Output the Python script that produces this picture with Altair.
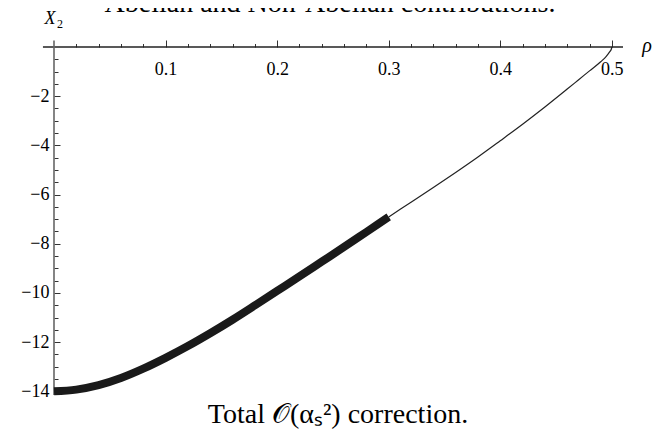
import altair as alt
import pandas as pd

# ---- data ----
rho_thick = [0.00, 0.02, 0.04, 0.06, 0.08, 0.10, 0.12, 0.14, 0.16, 0.18,
             0.20, 0.22, 0.24, 0.26, 0.28, 0.30]
x2_thick = [-14.00, -13.93, -13.75, -13.46, -13.08, -12.64, -12.16, -11.64,
            -11.09, -10.51, -9.92, -9.33, -8.73, -8.13, -7.52, -6.91]

rho_thin = [0.30, 0.32, 0.34, 0.36, 0.38, 0.40, 0.42, 0.44, 0.46, 0.47,
            0.48, 0.49, 0.495, 0.498, 0.4995, 0.50]
x2_thin = [-6.91, -6.31, -5.71, -5.10, -4.47, -3.81, -3.14, -2.44, -1.71,
           -1.34, -0.97, -0.60, -0.38, -0.20, -0.09, 0.0]

x_major = [0.1, 0.2, 0.3, 0.4, 0.5]
x_minor = [0.02, 0.04, 0.06, 0.08, 0.12, 0.14, 0.16, 0.18, 0.22, 0.24, 0.26,
           0.28, 0.32, 0.34, 0.36, 0.38, 0.42, 0.44, 0.46, 0.48]
y_major = [-2, -4, -6, -8, -10, -12, -14]
y_minor = [-0.5, -1, -1.5, -2.5, -3, -3.5, -4.5, -5, -5.5, -6.5, -7, -7.5,
           -8.5, -9, -9.5, -10.5, -11, -11.5, -12.5, -13, -13.5]

x_domain = [0, 0.51]
y_domain = [-14.15, 0]
x_line_extent = [-0.0099, 0.51]
y_line_extent = [0.26, -14.15]

title_text = "Abelian and Non-Abelian contributions."
caption_text = "Total 𝒪(αₛ²) correction."

FONT = "Liberation Serif"
W, H = 569, 348

xs = alt.Scale(domain=x_domain, nice=False, zero=False)
ys = alt.Scale(domain=y_domain, nice=False, zero=False)

thick_df = pd.DataFrame({"rho": rho_thick, "X2": x2_thick})
thin_df = pd.DataFrame({"rho": rho_thin, "X2": x2_thin})

common_axis = dict(grid=False, domain=False, title=None, tickColor="#333",
                   tickWidth=1, labelFont=FONT, labelFontSize=18,
                   labelColor="black", labelOverlap=False, labelFlush=False)

thick = alt.Chart(thick_df).mark_line(
    color="#1a1a1a", strokeWidth=8, strokeCap="butt", interpolate="monotone"
).encode(
    x=alt.X("rho:Q", scale=xs, axis=alt.Axis(
        orient="top", values=x_major, tickSize=7, format=".1f",
        labelPadding=-34, labelBaseline="alphabetic", **common_axis)),
    y=alt.Y("X2:Q", scale=ys, axis=alt.Axis(
        orient="right", offset=-W, values=y_major, tickSize=6, format="d",
        labelAlign="right", labelPadding=-11, labelBaseline="middle",
        **common_axis)),
)

thin = alt.Chart(thin_df).mark_line(
    color="#222", strokeWidth=1.2, interpolate="monotone"
).encode(
    x=alt.X("rho:Q", scale=xs, axis=alt.Axis(
        orient="top", values=x_minor, tickSize=3.5, labels=False,
        **common_axis)),
    y=alt.Y("X2:Q", scale=ys, axis=alt.Axis(
        orient="right", offset=-W, values=y_minor, tickSize=4, labels=False,
        **common_axis)),
)

xline = alt.Chart(pd.DataFrame({"a": [x_line_extent[0]], "b": [x_line_extent[1]], "y": [0]})).mark_rule(
    color="#222", strokeWidth=1.3
).encode(
    x=alt.X("a:Q", scale=xs, axis=None), x2="b:Q",
    y=alt.Y("y:Q", scale=ys, axis=None),
)

yline = alt.Chart(pd.DataFrame({"x": [0], "a": [y_line_extent[0]], "b": [y_line_extent[1]]})).mark_rule(
    color="#666", strokeWidth=1.6
).encode(
    x=alt.X("x:Q", scale=xs, axis=None),
    y=alt.Y("a:Q", scale=ys, axis=None), y2="b:Q",
)


def label(text, px, py, size, style="normal", align="center", font=FONT):
    return alt.Chart(pd.DataFrame({"t": [text]})).mark_text(
        font=font, fontSize=size, fontStyle=style, align=align,
        baseline="alphabetic", color="black"
    ).encode(text="t:N", x=alt.value(px), y=alt.value(py))


title = label(title_text, 276, -35, 28)
caption = label(caption_text, 284, 376, 28)
x2_label = label("X", -4, -23, 18, style="italic")
x2_sub = label("2", 3, -19, 12, align="left")
rho_label = label("ρ", 593, 5, 20, style="italic")

chart = alt.layer(
    xline, yline, thick, thin, title, caption, x2_label, x2_sub, rho_label
).resolve_axis(
    x="independent", y="independent"
).properties(
    width=W, height=H,
    padding={"left": 46, "top": 39, "right": 37, "bottom": 37},
    autosize=alt.AutoSizeParams(type="none"),
    background="white",
).configure_view(stroke=None).configure_axis(labelFont=FONT, labelFontSize=18)

chart.save("out.html", embed_options={"renderer": "svg", "actions": False})
